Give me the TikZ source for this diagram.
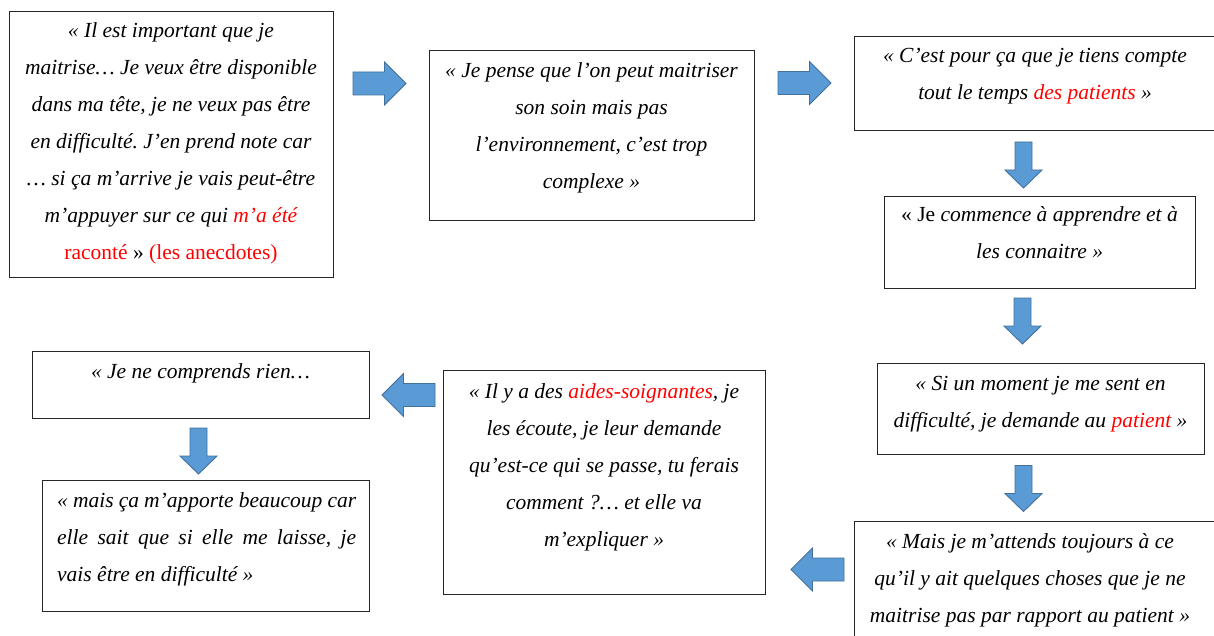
\documentclass[tikz,border=0pt]{standalone}
\usepackage{fontspec}
\setmainfont{Liberation Serif}
\usetikzlibrary{calc}
\frenchspacing
\definecolor{arrowfill}{HTML}{5B9BD5}
\definecolor{arrowline}{HTML}{41719C}
\newcommand{\redtxt}[1]{\textcolor{red}{#1}}
\tikzset{
  box/.style={draw=black!85, line width=0.8pt},
  txt/.style={anchor=base, inner sep=0pt, font=\fontsize{21.5}{37}\selectfont\itshape},
  barrow/.style={fill=arrowfill, draw=arrowline, line width=0.9pt, line join=miter},
  harrow/.pic={\draw[barrow] (-26.5,-11.5) -- (5,-11.5) -- (5,-21.5) -- (26.5,0) -- (5,21.5) -- (5,11.5) -- (-26.5,11.5) -- cycle;},
  larrow/.pic={\draw[barrow] (26.5,-11.5) -- (-5,-11.5) -- (-5,-21.5) -- (-26.5,0) -- (-5,21.5) -- (-5,11.5) -- (26.5,11.5) -- cycle;},
  varrow/.pic={\draw[barrow] (-8.5,-23) -- (-8.5,5) -- (-18.5,5) -- (0,23) -- (18.5,5) -- (8.5,5) -- (8.5,-23) -- cycle;}
}
\begin{document}
\begin{tikzpicture}[x=1pt,y=-1pt]
\useasboundingbox (0,0) rectangle (1214,636);
\fill[white] (0,0) rectangle (1214,636);
% boxes
\node[box, anchor=north west, minimum width=324pt, minimum height=266pt, inner sep=0pt] (b1) at (9,11) {};
\node[box, anchor=north west, minimum width=325pt, minimum height=170pt, inner sep=0pt] (b2) at (429,50) {};
\node[box, anchor=north west, minimum width=362pt, minimum height=94pt, inner sep=0pt] (b3) at (854,36) {};
\node[box, anchor=north west, minimum width=311pt, minimum height=92pt, inner sep=0pt] (b4) at (884,196) {};
\node[box, anchor=north west, minimum width=327pt, minimum height=91pt, inner sep=0pt] (b5) at (877,363) {};
\node[box, anchor=north west, minimum width=362pt, minimum height=130pt, inner sep=0pt] (b6) at (854,521) {};
\node[box, anchor=north west, minimum width=322pt, minimum height=224pt, inner sep=0pt] (b7) at (443,370) {};
\node[box, anchor=north west, minimum width=337pt, minimum height=67pt, inner sep=0pt] (b8) at (32,351) {};
\node[box, anchor=north west, minimum width=327pt, minimum height=131pt, inner sep=0pt] (b9) at (42,480) {};
% texts
\node[txt] (t1) at (171,38) {\parbox[t]{330pt}{\centering
« Il est important que je\\
maitrise… Je veux être disponible\\
dans ma tête, je ne veux pas être\\
en difficulté. J’en prend note car\\
… si ça m’arrive je vais peut-être\\
m’appuyer sur ce qui \redtxt{m’a été}\\
\upshape\redtxt{raconté} » \redtxt{(les anecdotes)}}};
\node[txt] (t2) at (591.5,78) {\parbox[t]{330pt}{\centering
« Je pense que l’on peut maitriser\\
son soin mais pas\\
l’environnement, c’est trop\\
complexe »}};
\node[txt] (t3) at (1035,63) {\parbox[t]{360pt}{\centering
« C’est pour ça que je tiens compte\\
tout le temps \redtxt{des patients} »}};
\node[txt] (t4) at (1039.5,222) {\parbox[t]{320pt}{\centering
{\upshape « Je} commence à apprendre et à\\
les connaitre »}};
\node[txt] (t5) at (1040.5,390) {\parbox[t]{330pt}{\centering
« Si un moment je me sent en\\
difficulté, je demande au \redtxt{patient} »}};
\node[txt] (t6) at (1030,548) {\parbox[t]{360pt}{\centering
« Mais je m’attends toujours à ce\\
qu’il y ait quelques choses que je ne\\
maitrise pas par rapport au patient »}};
\node[txt] (t7) at (604,398) {\parbox[t]{330pt}{\centering
« Il y a des \redtxt{aides-soignantes}, je\\
les écoute, je leur demande\\
qu’est-ce qui se passe, tu ferais\\
comment ?… et elle va\\
m’expliquer »}};
\node[txt] (t8) at (200.5,378) {« Je ne comprends rien…};
\node[txt, anchor=base west] (t9) at (57,507) {\parbox[t]{299pt}{\raggedright
\makebox[299pt][s]{« mais ça m’apporte beaucoup car}\\
\makebox[299pt][s]{elle sait que si elle me laisse, je}\\
vais être en difficulté »}};
% arrows
\pic (a1) at (379.5,83.5) {harrow};
\pic (a2) at (804.5,83) {harrow};
\pic (d1) at (1023.5,165) {varrow};
\pic (d2) at (1022.5,321) {varrow};
\pic (d3) at (1023.5,488.5) {varrow};
\pic (l1) at (817.5,569.5) {larrow};
\pic (l2) at (408.5,395) {larrow};
\pic (d4) at (198.5,451) {varrow};
\end{tikzpicture}
\end{document}
